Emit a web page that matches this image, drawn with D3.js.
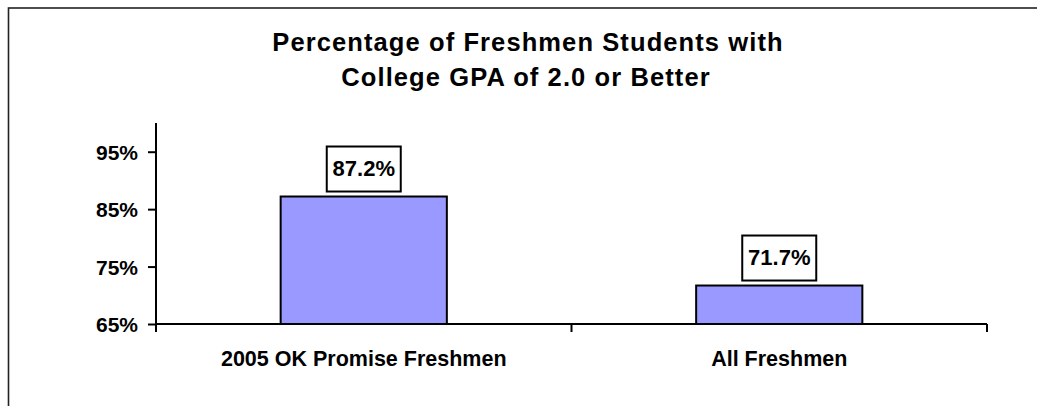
<!DOCTYPE html>
<html>
<head>
<meta charset="utf-8">
<script src="https://cdn.jsdelivr.net/npm/d3@7"></script>
<style>
  body { margin: 0; background: #fff; }
  text { font-family: "Liberation Sans", Arial, sans-serif; font-weight: bold; fill: #000; }
</style>
</head>
<body>
<div id="graph"></div>
<script>
// chart data
var categories = ["2005 OK Promise Freshmen", "All Freshmen"];
var values = [87.2, 71.7];
var valueLabels = ["87.2%", "71.7%"];
var yTicks = [65, 75, 85, 95];
var titleLines = ["Percentage of Freshmen Students with", "College GPA of 2.0 or Better"];

var svgWidth = 1037, svgHeight = 406;

var svg = d3.select("#graph")
  .append("svg")
  .attr("width", svgWidth)
  .attr("height", svgHeight);

// outer frame (runs off the right / bottom edge)
svg.append("rect")
  .attr("x", 8.5).attr("y", 8)
  .attr("width", 1100).attr("height", 500)
  .attr("fill", "none")
  .attr("stroke", "#222")
  .attr("stroke-width", 1.6);

// title
svg.append("g").selectAll("text")
  .data(titleLines)
  .enter().append("text")
  .attr("x", function(d, i) { return i == 0 ? 528 : 526; })
  .attr("y", function(d, i) { return 51 + i * 35; })
  .attr("text-anchor", "middle")
  .style("font-size", "25.5px")
  .style("letter-spacing", "1.1px")
  .text(function(d) { return d; });

var chartMargin = { left: 156, top: 123 };
var chartWidth = 987 - chartMargin.left;
var chartHeight = 324 - chartMargin.top;

var chartGroup = svg.append("g")
  .attr("transform", `translate(${chartMargin.left}, ${chartMargin.top})`);

var x = d3.scaleBand()
  .domain(categories)
  .range([0, chartWidth])
  .paddingInner(0.6)
  .paddingOuter(0.3);

var y = d3.scaleLinear()
  .domain([65, 100])
  .range([chartHeight, 0]);

// bars
chartGroup.selectAll(".bar")
  .data(values)
  .enter().append("rect")
  .attr("class", "bar")
  .attr("x", function(d, i) { return x(categories[i]); })
  .attr("y", function(d) { return y(d); })
  .attr("width", x.bandwidth())
  .attr("height", function(d) { return chartHeight - y(d); })
  .attr("fill", "#9999ff")
  .attr("stroke", "#000")
  .attr("stroke-width", 2);

// y axis
var yAxis = d3.axisLeft(y)
  .tickValues(yTicks)
  .tickSize(8)
  .tickPadding(10)
  .tickFormat(function(d) { return d + "%"; });

var yG = chartGroup.append("g").call(yAxis);
yG.select(".domain").remove();
yG.selectAll(".tick line").attr("stroke", "#000").attr("stroke-width", 2);
yG.selectAll(".tick text")
  .style("font-size", "21px")
  .style("font-family", "Liberation Sans, Arial, sans-serif")
  .style("font-weight", "bold")
  .attr("dy", "0.36em");
chartGroup.append("line")
  .attr("x1", 0).attr("x2", 0)
  .attr("y1", 0).attr("y2", chartHeight + 8)
  .attr("stroke", "#000").attr("stroke-width", 2);

// x axis, ticks between categories
chartGroup.append("line")
  .attr("x1", 0).attr("x2", chartWidth)
  .attr("y1", chartHeight).attr("y2", chartHeight)
  .attr("stroke", "#000").attr("stroke-width", 2);

var sepTicks = [1, 2].map(function(i) { return i * (chartWidth / categories.length); });
chartGroup.selectAll(".sep")
  .data(sepTicks)
  .enter().append("line")
  .attr("x1", function(d) { return d; })
  .attr("x2", function(d) { return d; })
  .attr("y1", chartHeight)
  .attr("y2", chartHeight + 8)
  .attr("stroke", "#000").attr("stroke-width", 2);

chartGroup.selectAll(".cat")
  .data(categories)
  .enter().append("text")
  .attr("x", function(d) { return x(d) + x.bandwidth() / 2; })
  .attr("y", chartHeight + 42)
  .attr("text-anchor", "middle")
  .style("font-size", "21.5px")
  .text(function(d) { return d; });

// value label boxes
var labels = chartGroup.selectAll(".lbl")
  .data(values)
  .enter().append("g")
  .attr("transform", function(d, i) {
    return `translate(${x(categories[i]) + x.bandwidth() / 2}, ${y(d) - 5})`;
  });

labels.append("rect")
  .attr("x", -37).attr("y", -45)
  .attr("width", 74).attr("height", 45)
  .attr("fill", "#fff")
  .attr("stroke", "#000")
  .attr("stroke-width", 2);

labels.append("text")
  .attr("x", 0).attr("y", -16)
  .attr("text-anchor", "middle")
  .style("font-size", "22px")
  .text(function(d, i) { return valueLabels[i]; });
</script>
</body>
</html>
